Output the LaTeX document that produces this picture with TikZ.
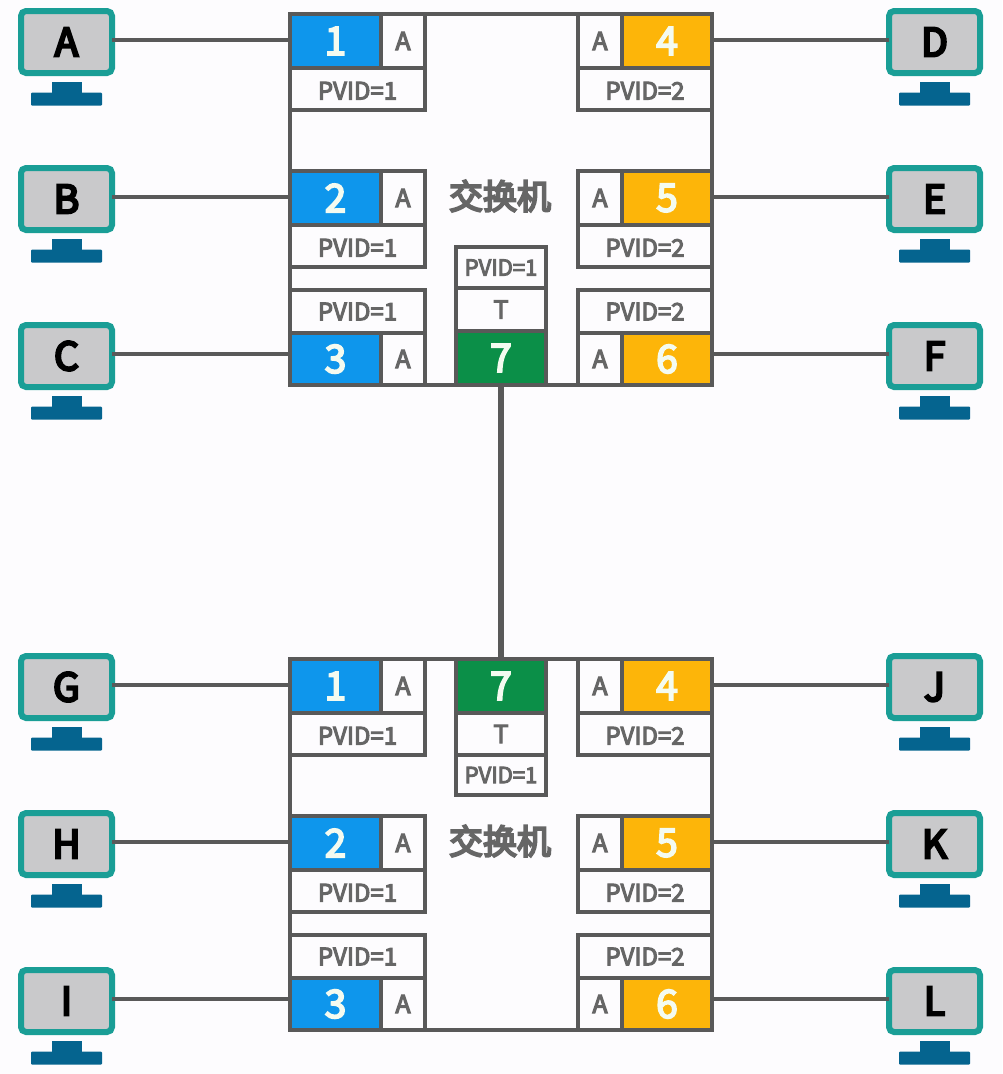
\documentclass[tikz,border=0pt]{standalone}
\usepackage{fontspec}
\setmainfont{Noto Sans CJK SC}
\newfontfamily\medfont[FakeBold=4.5]{Noto Sans CJK SC}
\newfontfamily\semifont[FakeBold=6]{Noto Sans CJK SC}
\definecolor{bgc}{HTML}{FDFCFE}
\definecolor{linec}{HTML}{595959}
\definecolor{tealc}{HTML}{1A9E96}
\definecolor{screenc}{HTML}{C9C9CB}
\definecolor{standc}{HTML}{05648F}
\definecolor{bluec}{HTML}{0E96EC}
\definecolor{orangec}{HTML}{FDB509}
\definecolor{greenc}{HTML}{0B8F48}
\definecolor{greytext}{HTML}{666666}
\definecolor{numc}{HTML}{F4FBF0}
\tikzset{
  cellbox/.style={draw=linec,line width=4.5pt,inner sep=0pt,outer sep=0pt,rectangle},
  wire/.style={draw=linec,line width=4pt},
  trunk/.style={draw=linec,line width=6pt},
  screenbox/.style={draw=tealc,fill=screenc,line width=6pt,rounded corners=5pt,minimum width=91pt,minimum height=62pt,inner sep=0pt,outer sep=0pt,font=\semifont\fontsize{39}{39}\selectfont,text=black},
  standpart/.style={fill=standc,inner sep=0pt,outer sep=0pt,rounded corners=1pt},
  numtext/.style={font=\medfont\fontsize{39}{39}\selectfont,text=numc},
  atext/.style={font=\medfont\fontsize{25}{25}\selectfont,text=greytext},
  pvidtext/.style={font=\medfont\fontsize{24}{24}\selectfont,text=greytext},
  pvidlow/.style={pvidtext,text height=21pt,text depth=0pt},
  pvidsmall/.style={font=\medfont\fontsize{22}{22}\selectfont,text=greytext},
  ttext/.style={font=\medfont\fontsize{25}{25}\selectfont,text=greytext},
  titletext/.style={font=\semifont\fontsize{34}{34}\selectfont,text=greytext,inner sep=0pt},
}
% name x1 y1 x2 y2 fill style text
\newcommand{\cellnode}[8]{%
  \node[cellbox,fill=#6,#7,minimum width={(#4-(#2))*1pt},minimum height={(#5-(#3))*1pt}] (#1) at ({(#2+#4)/2},{(#3+#5)/2}) {#8};}
% name (letter) x-left y-top
\newcommand{\pcnode}[3]{%
  \node[standpart,minimum width=30pt,minimum height=11pt,rounded corners=0pt] (neck#1) at ({#2+48.5},{#3+79}) {};
  \node[standpart,minimum width=71pt,minimum height=13pt] (base#1) at ({#2+48.5},{#3+91}) {};
  \node[screenbox] (mon#1) at ({#2+48.5},{#3+34}) {#1};}
\newcommand{\leftup}[3]{% name, top y, number
  \cellnode{#1n}{290}{#2}{381}{#2+54}{bluec}{numtext}{#3}
  \cellnode{#1a}{381}{#2}{425}{#2+54}{bgc}{atext}{A}
  \cellnode{#1p}{290}{#2+54}{425}{#2+96}{bgc}{pvidlow}{PVID=1}}
\newcommand{\rightup}[3]{%
  \cellnode{#1a}{578}{#2}{622}{#2+54}{bgc}{atext}{A}
  \cellnode{#1n}{622}{#2}{712}{#2+54}{orangec}{numtext}{#3}
  \cellnode{#1p}{578}{#2+54}{712}{#2+96}{bgc}{pvidlow}{PVID=2}}
\newcommand{\leftdown}[3]{% name, top y, number
  \cellnode{#1p}{290}{#2}{425}{#2+43}{bgc}{pvidtext}{PVID=1}
  \cellnode{#1n}{290}{#2+43}{381}{#2+95}{bluec}{numtext}{#3}
  \cellnode{#1a}{381}{#2+43}{425}{#2+95}{bgc}{atext}{A}}
\newcommand{\rightdown}[3]{%
  \cellnode{#1p}{578}{#2}{712}{#2+43}{bgc}{pvidtext}{PVID=2}
  \cellnode{#1a}{578}{#2+43}{622}{#2+95}{bgc}{atext}{A}
  \cellnode{#1n}{622}{#2+43}{712}{#2+95}{orangec}{numtext}{#3}}
\newcommand{\lwire}[2]{\draw[wire] ([yshift=2pt]mon#1.east) -- ([yshift=2pt]mon#1.east -| #2.west);}
\newcommand{\rwire}[2]{\draw[wire] ([yshift=2pt]mon#1.west) -- ([yshift=2pt]mon#1.west -| #2.east);}
\begin{document}
\begin{tikzpicture}[x=1pt,y=-1pt]
\useasboundingbox (0,0) rectangle (1002,1074);
\fill[bgc] (0,0) rectangle (1002,1074);
% switches
\cellnode{swa}{290}{14}{712}{385}{bgc}{}{}
\cellnode{swb}{290}{659}{712}{1030}{bgc}{}{}
\node[titletext] (titlea) at (500,196) {交换机};
\node[titletext] (titleb) at (500,841) {交换机};
% top switch ports
\leftup{a1}{14}{1}
\leftup{a2}{171}{2}
\leftdown{a3}{290}{3}
\rightup{a4}{14}{4}
\rightup{a5}{171}{5}
\rightdown{a6}{290}{6}
\cellnode{a7p}{456}{247}{546}{288}{bgc}{pvidsmall}{PVID=1}
\cellnode{a7t}{456}{288}{546}{331}{bgc}{ttext}{T}
\cellnode{a7n}{456}{331}{546}{385}{greenc}{numtext}{7}
% bottom switch ports
\leftup{b1}{659}{1}
\leftup{b2}{816}{2}
\leftdown{b3}{935}{3}
\rightup{b4}{659}{4}
\rightup{b5}{816}{5}
\rightdown{b6}{935}{6}
\cellnode{b7n}{456}{659}{546}{713}{greenc}{numtext}{7}
\cellnode{b7t}{456}{713}{546}{755}{bgc}{ttext}{T}
\cellnode{b7p}{456}{755}{546}{795}{bgc}{pvidsmall}{PVID=1}
% computers
\pcnode{A}{18}{8}
\pcnode{B}{18}{165}
\pcnode{C}{18}{322}
\pcnode{G}{18}{653}
\pcnode{H}{18}{810}
\pcnode{I}{18}{967}
\pcnode{D}{886}{8}
\pcnode{E}{886}{165}
\pcnode{F}{886}{322}
\pcnode{J}{886}{653}
\pcnode{K}{886}{810}
\pcnode{L}{886}{967}
% connectors
\lwire{A}{a1n}
\lwire{B}{a2n}
\lwire{C}{a3n}
\lwire{G}{b1n}
\lwire{H}{b2n}
\lwire{I}{b3n}
\rwire{D}{a4n}
\rwire{E}{a5n}
\rwire{F}{a6n}
\rwire{J}{b4n}
\rwire{K}{b5n}
\rwire{L}{b6n}
\draw[trunk] (a7n.south) -- (b7n.north);
\end{tikzpicture}
\end{document}
